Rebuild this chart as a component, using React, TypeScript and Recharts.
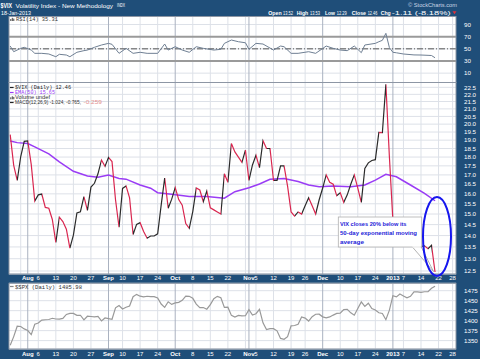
import React from 'react';
import { LineChart, Line, XAxis, YAxis, CartesianGrid, ReferenceLine } from 'recharts';

const W = 480;
const H = 359;
const BG = '#1f4e79';
const RED = '#d9264f';
const DARK = '#2b2b2b';
const PURPLE = '#9a3cf5';
const SANS = "'Liberation Sans', Arial, sans-serif";
const MONO = "'Liberation Mono', 'DejaVu Sans Mono', monospace";

// trading-day index 0 = 25 Jul 2012 ... 121 = 18 Jan 2013
const vixClose = [
  19.34, 17.53, 16.7, 18.03, 18.93, 18.96, 17.57, 15.64, 15.95, 15.99,
  15.32, 15.28, 14.74, 13.7, 14.85, 14.64, 14.29, 13.45, 14.02, 15.05,
  15.11, 15.86, 15.18, 16.35, 16.55, 17.06, 17.83, 17.47, 17.98, 17.74,
  15.7, 14.38, 16.28, 16.41, 15.8, 14.05, 14.51, 14.59, 14.18, 13.88,
  13.98, 13.98, 14.08, 15.43, 16.83, 15.28, 15.73, 16.32, 15.71, 15.43,
  14.55, 14.33, 15.12, 16.3, 16.2, 15.6, 16.14, 15.3, 15.2, 15.1,
  15.0, 17.06, 16.6, 18.8, 18.3, 18.0, 17.7, 18.4, 16.7, 17.55,
  18.1, 17.4, 18.97, 18.5, 18.5, 16.7, 16.7, 17.5, 17.5, 16.4,
  15.1, 14.9, 15.1, 15.0, 15.4, 15.8, 15.4, 15.0, 15.7, 16.3,
  17.0, 16.6, 16.5, 15.9, 16.05, 15.57, 15.95, 16.5, 17.0, 16.3,
  15.57, 17.36, 17.67, 17.8, 17.85, 19.48, 19.47, 22.72, 18.02, 14.68,
  14.56, 13.83, 13.79, 13.62, 13.81, 13.49, 13.36, 13.52, 13.55, 13.42,
  13.57, 12.46,
];

const spxClose = [
  1338.3, 1360.0, 1386.0, 1385.3, 1379.3, 1375.3, 1365.0, 1391.0, 1394.2, 1401.4,
  1402.2, 1402.8, 1405.9, 1404.1, 1403.9, 1405.5, 1415.5, 1418.2, 1418.1, 1413.2,
  1413.5, 1402.1, 1411.1, 1410.4, 1409.3, 1410.5, 1399.5, 1406.6, 1404.9, 1403.4,
  1432.1, 1437.9, 1429.1, 1433.6, 1436.6, 1460.0, 1465.8, 1461.2, 1459.3, 1461.1,
  1460.3, 1460.2, 1456.9, 1441.6, 1433.3, 1447.2, 1440.7, 1444.5, 1445.8, 1451.0,
  1461.4, 1460.9, 1455.9, 1441.5, 1432.6, 1432.8, 1428.6, 1440.1, 1454.9, 1460.9,
  1457.3, 1433.2, 1433.8, 1413.1, 1408.8, 1413.0, 1411.9, 1412.2, 1427.6, 1414.2,
  1417.3, 1428.4, 1394.5, 1377.5, 1379.9, 1380.0, 1374.5, 1355.5, 1353.3, 1359.9,
  1386.9, 1387.8, 1391.0, 1409.2, 1406.3, 1398.9, 1409.9, 1416.0, 1416.2, 1409.5,
  1407.1, 1409.3, 1413.9, 1418.1, 1418.6, 1427.8, 1428.5, 1419.5, 1413.6, 1430.4,
  1446.8, 1435.8, 1443.7, 1430.2, 1426.7, 1419.8, 1418.1, 1402.4, 1426.2, 1462.4,
  1459.4, 1466.5, 1461.9, 1457.2, 1461.0, 1472.1, 1472.1, 1470.7, 1472.3, 1472.6,
  1480.9, 1486.0,
];

// [trading-day index, EMA(50)]
const ema50Pts: [number, number][] = [
  [0, 18.95], [2, 18.85], [5, 18.8], [7, 18.6], [11, 18.18], [14, 17.73], [18, 17.2],
  [22, 16.94], [25, 16.87], [28, 16.99], [31, 16.81], [33, 16.77], [37, 16.46], [40, 16.29],
  [42, 16.06], [46, 15.98], [51, 15.86], [56, 15.86], [61, 15.78], [64, 16.11], [68, 16.32],
  [71, 16.51], [74, 16.76], [78, 16.81], [82, 16.64], [85, 16.46], [88, 16.37], [92, 16.41],
  [97, 16.37], [101, 16.46], [104, 16.72], [107, 17.03], [110, 16.9], [114, 16.46],
  [118, 16.03], [121, 15.65],
];

// [trading-day index, RSI(14)]
const rsi14Pts: [number, number][] = [
  [0, 54.6], [1, 45.3], [3, 50.8], [4, 52.5], [6, 48], [7, 42.6], [9, 42.6], [11, 41.5],
  [13, 37], [14, 41], [16, 39.8], [17, 37], [19, 44.3], [21, 47], [22, 48], [24, 52.5],
  [26, 56.3], [28, 59], [29, 57.4], [31, 42.6], [33, 50.8], [35, 42.6], [37, 44.3],
  [39, 42.6], [42, 42.6], [44, 57.9], [45, 48], [47, 53.5], [49, 48], [51, 44.3],
  [53, 53.5], [55, 50.8], [58, 48], [60, 49.2], [61, 59], [63, 64.5], [65, 61.7],
  [67, 60], [68, 49.2], [70, 59], [72, 57.9], [75, 48], [77, 54.6], [78, 53.5],
  [80, 42.6], [82, 42.6], [85, 45.3], [87, 42.6], [90, 54.6], [92, 50.8], [94, 48],
  [96, 47], [98, 54.6], [100, 43.7], [101, 56.3], [104, 59], [105, 61.7], [106, 64],
  [107, 75.5], [108, 52], [109, 44.3], [110, 43.5], [112, 41.5], [115, 40], [117, 39.8],
  [119, 39.3], [120, 39], [121, 35.31],
];

const monthTicks: [number, string][] = [
  [5, 'Aug'], [28, 'Sep'], [47, 'Oct'], [68, 'Nov'], [89, 'Dec'], [109, '2013'],
];
const weekTicks: [number, string][] = [
  [8, '6'], [13, '13'], [18, '20'], [23, '27'], [32, '10'], [37, '17'], [42, '24'],
  [52, '8'], [57, '15'], [62, '22'], [70, '5'], [75, '12'], [80, '19'], [84, '26'],
  [94, '10'], [99, '17'], [104, '24'], [112, '7'], [117, '14'], [122, '22'], [126, '28'],
];
const extraWeekGrid = [3, 67];

const vixTicks = [12.5, 13, 13.5, 14, 14.5, 15, 15.5, 16, 16.5, 17, 17.5, 18, 18.5, 19, 19.5, 20, 20.5, 21, 21.5, 22, 22.5];
const rsiTicks = [10, 30, 50, 70, 90];
const spxTicks = [1350, 1375, 1400, 1425, 1450, 1475];

const X_DOMAIN: [number, number] = [-0.34, 126.97];

const priceData = vixClose.map((v, i) => ({ i, v }));
const spxData = spxClose.map((v, i) => ({ i, v }));
const emaData = ema50Pts.map(([i, v]) => ({ i, v }));
const rsiData = rsi14Pts.map(([i, v]) => ({ i, v }));

const tickInfo: Record<number, { label: string; bold: boolean }> = {};
monthTicks.forEach(([i, l]) => (tickInfo[i] = { label: l, bold: true }));
weekTicks.forEach(([i, l]) => (tickInfo[i] = { label: l, bold: false }));
const tickIdx = Object.keys(tickInfo).map(Number).sort((a, b) => a - b);

const GRID_LIGHT = '#dde1e8';
const GRID_MONTH = '#aab2c0';

const vGrid = (p: string) => [
  ...[...weekTicks.map(([i]) => i), ...extraWeekGrid].map((i) => (
    <ReferenceLine key={p + 'w' + i} x={i} stroke={GRID_LIGHT} strokeWidth={1} />
  )),
  ...monthTicks.map(([i]) => (
    <ReferenceLine key={p + 'm' + i} x={i} stroke={GRID_MONTH} strokeWidth={1} />
  )),
];

const makeXTick = (dy: number) => (props: any) => {
  const { x, y, payload } = props;
  const t = tickInfo[payload.value];
  if (!t) return <g />;
  return (
    <text x={x} y={y + dy} textAnchor="middle" fill="#fff" fontSize={6} fontFamily={SANS} fontWeight={t.bold ? 700 : 400}>
      {t.label}
    </text>
  );
};

const yTick = { fill: '#fff', fontSize: 6.2, fontFamily: SANS };

const lastIdx = vixClose.length - 1;
const gradStops: React.ReactNode[] = [];
for (let k = 0; k < lastIdx; k++) {
  const c = vixClose[k + 1] < vixClose[k] ? RED : DARK;
  gradStops.push(<stop key={'a' + k} offset={k / lastIdx} stopColor={c} />);
  gradStops.push(<stop key={'b' + k} offset={(k + 1) / lastIdx} stopColor={c} />);
}

const abs: React.CSSProperties = { position: 'absolute', left: 0, top: 0 };

function RsiChart() {
  return (
    <div style={abs}>
      <LineChart width={W} height={H} data={rsiData} margin={{ top: 16.5, right: 0, bottom: 276.5, left: 9 }}>
        <CartesianGrid fill="#fff" stroke={GRID_LIGHT} vertical={false} />
        {vGrid('r')}
        <XAxis type="number" dataKey="i" domain={X_DOMAIN} allowDataOverflow hide />
        <YAxis orientation="right" width={24} domain={[-5.4, 103.2]} ticks={rsiTicks} allowDataOverflow tick={yTick} tickLine={false} axisLine={false} tickMargin={2} />
        <ReferenceLine y={70} stroke="#9a9a9a" strokeWidth={2} />
        <ReferenceLine y={30} stroke="#9a9a9a" strokeWidth={2} />
        <ReferenceLine y={50} stroke="#555" strokeWidth={1} strokeDasharray="6 2 1 2" />
        <Line dataKey="v" stroke="#6f7f93" strokeWidth={1} dot={false} isAnimationActive={false} />
      </LineChart>
    </div>
  );
}

function PriceChart() {
  return (
    <div style={abs}>
      <LineChart width={W} height={H} data={priceData} margin={{ top: 82.5, right: 0, bottom: 75, left: 9 }}>
        <defs>
          <linearGradient id="vixGrad" x1="0" y1="0" x2="1" y2="0">
            {gradStops}
          </linearGradient>
        </defs>
        <CartesianGrid fill="#fff" stroke={GRID_LIGHT} vertical={false} />
        {vGrid('p')}
        <XAxis type="number" dataKey="i" domain={X_DOMAIN} allowDataOverflow ticks={tickIdx} interval={0} tick={makeXTick(6.3)} tickLine={false} axisLine={false} tickSize={0} tickMargin={0} height={10} />
        <YAxis orientation="right" width={24} scale="log" domain={[12.38, 22.85]} ticks={vixTicks} allowDataOverflow tick={yTick} tickFormatter={(v: number) => v.toFixed(1)} tickLine={false} axisLine={false} tickMargin={2} interval={0} />
        <Line data={emaData} dataKey="v" stroke={PURPLE} strokeWidth={1.5} dot={false} isAnimationActive={false} />
        <Line dataKey="v" stroke="url(#vixGrad)" strokeWidth={1.2} dot={false} isAnimationActive={false} />
      </LineChart>
    </div>
  );
}

function SpxChart() {
  return (
    <div style={abs}>
      <LineChart width={W} height={H} data={spxData} margin={{ top: 283.3, right: 0, bottom: 0, left: 9 }}>
        <CartesianGrid fill="#fff" stroke={GRID_LIGHT} vertical={false} />
        {vGrid('s')}
        <XAxis type="number" dataKey="i" domain={X_DOMAIN} allowDataOverflow ticks={tickIdx} interval={0} tick={makeXTick(7)} tickLine={false} axisLine={false} tickSize={0} tickMargin={0} height={10} />
        <YAxis orientation="right" width={24} domain={[1329, 1493.5]} ticks={spxTicks} allowDataOverflow tick={yTick} tickLine={false} axisLine={false} tickMargin={2} interval={0} />
        <Line dataKey="v" stroke="#999" strokeWidth={1.2} dot={false} isAnimationActive={false} />
      </LineChart>
    </div>
  );
}

function Overlay() {
  const wt = { fill: '#fff', fontFamily: SANS } as const;
  return (
    <svg width={W} height={H} style={{ ...abs, pointerEvents: 'none' }}>
      {/* panel borders */}
      <rect x={9} y={16.5} width={447} height={66} fill="none" stroke="#8d96a4" strokeWidth={1} />
      <rect x={9} y={82.5} width={447} height={191.5} fill="none" stroke="#8d96a4" strokeWidth={1} />
      <rect x={9} y={283.3} width={447} height={65.7} fill="none" stroke="#8d96a4" strokeWidth={1} />

      {/* header */}
      <text x={0.5} y={8} {...wt} fontSize={8} fontWeight={700} textLength={11.5} lengthAdjust="spacingAndGlyphs">$VIX</text>
      <text x={15.5} y={7.5} {...wt} fontSize={5.8} textLength={97.5} lengthAdjust="spacingAndGlyphs">Volatility Index - New Methodology</text>
      <text x={117} y={7.3} {...wt} fontSize={4.5} textLength={8} lengthAdjust="spacingAndGlyphs">INDX</text>
      <text x={1} y={14.8} {...wt} fontSize={5.2} textLength={30} lengthAdjust="spacingAndGlyphs">18-Jan-2013</text>
      <text x={408} y={7.3} fill="#c9d5e4" fontFamily={SANS} fontSize={5} textLength={49} lengthAdjust="spacingAndGlyphs">© StockCharts.com</text>
      <g fontSize={5.8} fontFamily={SANS} fill="#fff">
        <text x={268.3} y={14.6} fontWeight={700} textLength={13.4} lengthAdjust="spacingAndGlyphs">Open</text>
        <text x={283} y={14.6} textLength={10} lengthAdjust="spacingAndGlyphs">13.52</text>
        <text x={296.7} y={14.6} fontWeight={700} textLength={11.6} lengthAdjust="spacingAndGlyphs">High</text>
        <text x={310} y={14.6} textLength={10} lengthAdjust="spacingAndGlyphs">13.53</text>
        <text x={325} y={14.6} fontWeight={700} textLength={10} lengthAdjust="spacingAndGlyphs">Low</text>
        <text x={336.7} y={14.6} textLength={10} lengthAdjust="spacingAndGlyphs">12.29</text>
        <text x={351.7} y={14.6} fontWeight={700} textLength={14.3} lengthAdjust="spacingAndGlyphs">Close</text>
        <text x={367.7} y={14.6} textLength={9.6} lengthAdjust="spacingAndGlyphs">12.46</text>
        <text x={380.7} y={14.6} fontWeight={700} textLength={10} lengthAdjust="spacingAndGlyphs">Chg</text>
        <text x={391.7} y={14.6} textLength={59} lengthAdjust="spacingAndGlyphs">-1.11 (-8.18%)</text>
      </g>
      <polygon points="452.5,11.3 456.5,11.3 454.5,14.3" fill="#e0303a" />

      {/* RSI label */}
      <g fill="#444">
        <rect x={10.3} y={19} width={1} height={2} />
        <rect x={11.8} y={17.8} width={1} height={3.2} />
        <rect x={13.3} y={18.6} width={1} height={2.4} />
      </g>
      <text x={16} y={21.3} fill="#333" fontFamily={MONO} fontSize={5.4} textLength={42} lengthAdjust="spacingAndGlyphs">RSI(14) 35.31</text>

      {/* price legend */}
      <line x1={10} y1={87.5} x2={13.6} y2={87.5} stroke="#222" strokeWidth={1.2} />
      <text x={15} y={89.3} fill="#222" fontFamily={MONO} fontSize={4.8} textLength={56} lengthAdjust="spacingAndGlyphs">$VIX (Daily) 12.46</text>
      <line x1={10} y1={92.5} x2={13.6} y2={92.5} stroke={PURPLE} strokeWidth={1.2} />
      <text x={15} y={94.3} fill={PURPLE} fontFamily={MONO} fontSize={4.8} textLength={40} lengthAdjust="spacingAndGlyphs">EMA(50) 15.65</text>
      <g fill="#444">
        <rect x={10.3} y={97.3} width={1} height={2} />
        <rect x={11.8} y={96.3} width={1} height={3} />
        <rect x={13.3} y={96.9} width={1} height={2.4} />
      </g>
      <text x={15} y={99.3} fill="#333" fontFamily={SANS} fontSize={4.8} textLength={35} lengthAdjust="spacingAndGlyphs">Volume undef</text>
      <line x1={10} y1={102.5} x2={13.6} y2={102.5} stroke="#222" strokeWidth={1.2} />
      <text x={15} y={104.3} fill="#333" fontFamily={SANS} fontSize={4.8} textLength={66} lengthAdjust="spacingAndGlyphs">MACD(12,26,9) -1.024, -0.765,</text>
      <text x={83.5} y={104.3} fill="#e49090" fontFamily={SANS} fontSize={4.8} textLength={18.5} lengthAdjust="spacingAndGlyphs">-0.259</text>

      {/* SPX legend */}
      <line x1={10} y1={286.5} x2={13.6} y2={286.5} stroke="#888" strokeWidth={1.2} />
      <text x={15} y={288.6} fill="#333" fontFamily={MONO} fontSize={5.2} textLength={67} lengthAdjust="spacingAndGlyphs">$SPX (Daily) 1485.98</text>

      {/* callout */}
      <polygon points="412,246.5 421,246.5 433.5,271.5" fill="#fff" stroke="#a0a0a0" strokeWidth={0.8} />
      <rect x={338.3} y={217} width={83.4} height={30} fill="#fff" stroke="#b0b0b0" strokeWidth={0.8} />
      <line x1={412.4} y1={247} x2={420.6} y2={247} stroke="#fff" strokeWidth={1.2} />
      <g fill="#2424d8" fontFamily={SANS} fontWeight={700} fontSize={5.8}>
        <text x={340} y={225.8} textLength={66.5} lengthAdjust="spacingAndGlyphs">VIX closes 20% below its</text>
        <text x={340} y={234.8} textLength={77} lengthAdjust="spacingAndGlyphs">50-day exponential moving</text>
        <text x={340} y={243.6} textLength={24} lengthAdjust="spacingAndGlyphs">average</text>
      </g>
      <ellipse cx={437} cy={236.5} rx={14} ry={39.5} fill="none" stroke="#1616ee" strokeWidth={2} />
    </svg>
  );
}

export default function App() {
  return (
    <div style={{ position: 'absolute', left: 0, top: 0, width: W, height: H, background: BG, overflow: 'hidden' }}>
      <RsiChart />
      <PriceChart />
      <SpxChart />
      <Overlay />
    </div>
  );
}
